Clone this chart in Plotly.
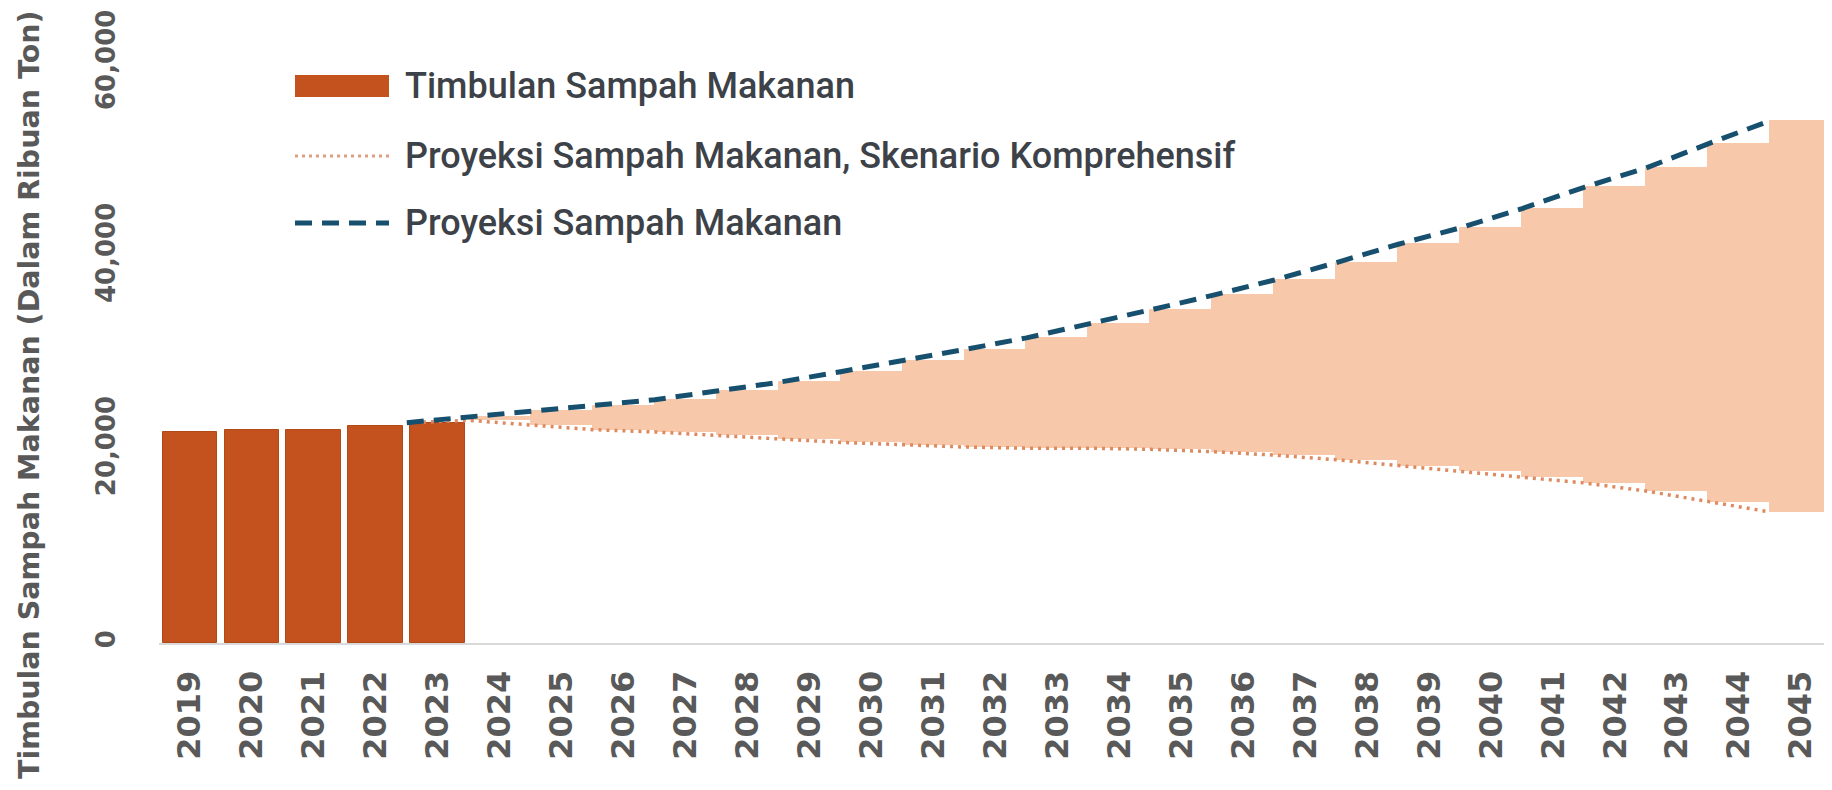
import plotly.graph_objects as go

# ---- data (thousand tonnes) ----
hist_years = [2019, 2020, 2021, 2022, 2023]
hist_vals = [21860, 22100, 22100, 22460, 22820]

proj_years = list(range(2024, 2046))
proj_upper = [23400, 24000, 24500, 25200, 26100, 27000, 28100, 29200, 30400, 31600, 33000,
              34500, 36000, 37600, 39400, 41300, 43000, 45000, 47200, 49200, 51700, 54100]
proj_lower = [23060, 22580, 22100, 21860, 21500, 21140, 20780, 20540, 20300, 20180, 20180,
              20060, 19820, 19460, 18980, 18380, 17780, 17180, 16580, 15740, 14650, 13570]

all_years = hist_years + proj_years
tick_labels = [str(y) for y in all_years]
y_ticks = [0, 20000, 40000, 60000]

legend_labels = ["Timbulan Sampah Makanan",
                 "Proyeksi Sampah Makanan, Skenario Komprehensif",
                 "Proyeksi Sampah Makanan"]
y_title = "Timbulan Sampah Makanan (Dalam Ribuan Ton)"

# ---- styles ----
C_BAR = "#C4521F"
C_BAND = "#F8C8AA"
C_DASH = "#17506E"
C_DOT = "#DE8A60"
C_TEXT = "#595959"
C_LEG = "#3D4148"

line_years = [hist_years[-1]] + proj_years
line_x = [y - 0.5 for y in line_years]
dash_vals = [hist_vals[-1]] + proj_upper
dot_vals = [hist_vals[-1]] + proj_lower

fig = go.Figure()
fig.add_trace(go.Bar(
    x=proj_years, y=[u - l for u, l in zip(proj_upper, proj_lower)], base=proj_lower,
    width=1.0, marker=dict(color=C_BAND, line=dict(color=C_BAND, width=1)),
    showlegend=False, hoverinfo="skip"))
fig.add_trace(go.Bar(
    x=hist_years, y=hist_vals, width=0.885,
    marker=dict(color=C_BAR, line=dict(color="#B04818", width=1)),
    showlegend=False))
fig.add_trace(go.Scatter(
    x=line_x, y=dot_vals, mode="lines",
    line=dict(color=C_DOT, width=3.5, dash="3px,5px"), showlegend=False))
fig.add_trace(go.Scatter(
    x=line_x, y=dash_vals, mode="lines",
    line=dict(color=C_DASH, width=5, dash="17px,10px"), showlegend=False))

# ---- geometry (page is offset by the 8px body margin) ----
OFF = 8
FW, FH = 1832 - OFF, 790 - OFF
ML = 159 - OFF
PW = FW - ML
PH = 643 - OFF
YMAX = 66600 * PH / 643

def px(page_x):
    return (page_x - OFF - ML) / PW
def py(page_y):
    return (PH - (page_y - OFF)) / PH

# ---- manual legend ----
rows_y = [86, 156, 223]
sw_x0, sw_x1, txt_x = px(295), px(389), px(403)
fig.add_shape(type="rect", xref="paper", yref="paper",
              x0=sw_x0, x1=sw_x1, y0=py(97), y1=py(75),
              fillcolor=C_BAR, line=dict(width=0))
fig.add_shape(type="line", xref="paper", yref="paper",
              x0=sw_x0, x1=sw_x1, y0=py(rows_y[1]), y1=py(rows_y[1]),
              line=dict(color="#DDA084", width=3, dash="3px,4px"))
fig.add_shape(type="line", xref="paper", yref="paper",
              x0=sw_x0, x1=sw_x1, y0=py(rows_y[2]), y1=py(rows_y[2]),
              line=dict(color=C_DASH, width=5, dash="17px,10px"))
for lab, ry in zip(legend_labels, rows_y):
    fig.add_annotation(text=lab, xref="paper", yref="paper", x=txt_x, y=py(ry),
                       xanchor="left", yanchor="middle", showarrow=False,
                       font=dict(family="Roboto", size=36, color=C_LEG, weight=500))

fig.add_annotation(text=y_title, xref="paper", yref="paper", x=px(29), y=py(395),
                   xanchor="center", yanchor="middle", textangle=-90, showarrow=False,
                   font=dict(family="DejaVu Sans", size=28.5, color=C_TEXT, weight="bold"))

fig.update_layout(
    width=FW, height=FH,
    margin=dict(l=ML, r=0, t=0, b=FH - PH, pad=0, autoexpand=False),
    paper_bgcolor="white", plot_bgcolor="white",
    barmode="overlay", bargap=0,
    xaxis=dict(type="linear", range=[2018.5, 2045.5], tickvals=all_years, ticktext=tick_labels,
               tickangle=-90, showgrid=False, zeroline=False, automargin=False,
               showline=True, linecolor="#D9D9D9", linewidth=2, layer="below traces",
               ticks="", ticklabelstandoff=13, ticklabeloverflow="allow",
               tickfont=dict(family="DejaVu Sans", size=32, color=C_TEXT, weight="bold")),
    yaxis=dict(range=[0, YMAX], tickvals=y_ticks, tickformat=",", tickangle=-90,
               showgrid=False, zeroline=False, showline=False, ticks="", automargin=False,
               ticklabelstandoff=38, ticklabeloverflow="allow",
               tickfont=dict(family="DejaVu Sans", size=26, color=C_TEXT, weight="bold")),
)

fig.write_html("out.html")
